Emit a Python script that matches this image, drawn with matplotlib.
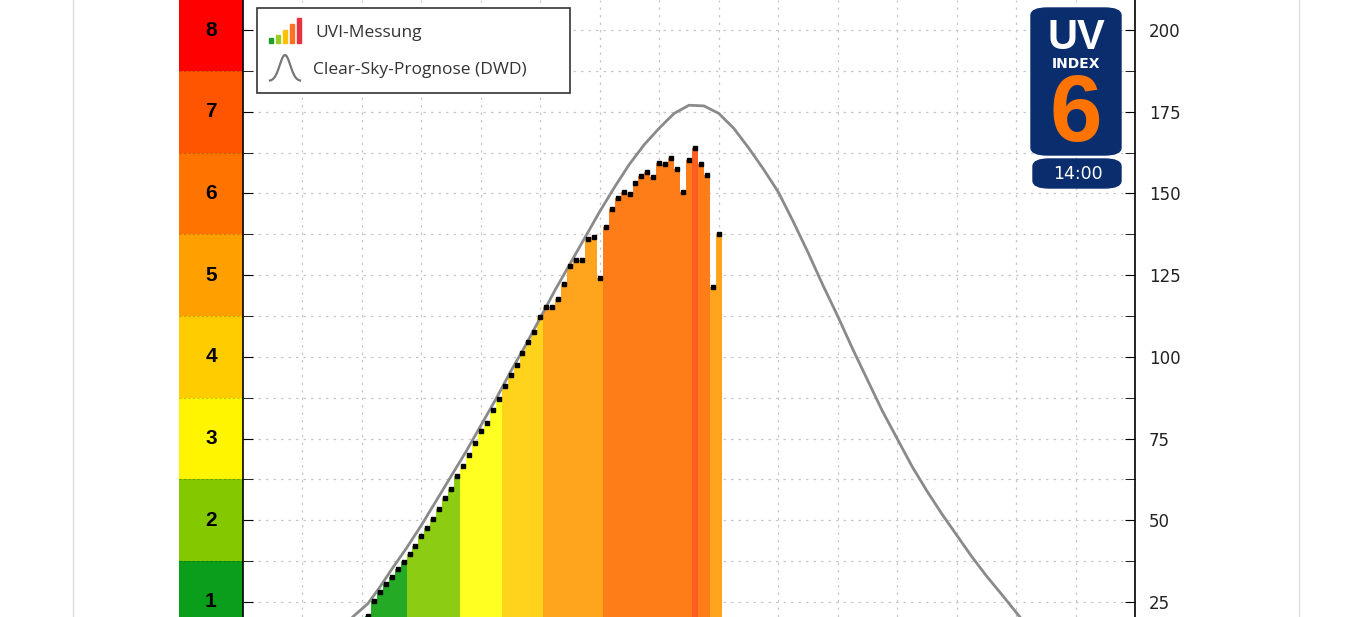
import numpy as np
import matplotlib.pyplot as plt
from matplotlib.patches import Rectangle, FancyBboxPatch
from matplotlib.lines import Line2D

# measured UVI (scaled x25) every 6 minutes from 08:06 to 14:00
t_start = 8.1
uvi = [20.6, 25.4, 28.2, 30.4, 32.6, 35.0, 37.1, 39.7, 42.2, 45.1,
       47.7, 50.5, 53.4, 56.7, 59.6, 63.6, 66.5, 70.1, 73.5, 77.3,
       79.9, 83.6, 87.0, 91.0, 94.6, 97.5, 101.1, 104.5, 107.7, 112.1,
       115.4, 115.4, 117.6, 122.3, 127.9, 129.7, 129.7, 136.0, 136.6, 124.0,
       139.8, 145.2, 148.5, 150.3, 149.7, 153.3, 155.3, 156.5, 155.1, 159.2,
       159.0, 160.7, 157.5, 150.6, 160.1, 164.0, 159.0, 155.7, 121.4, 137.5]
hours = t_start + 0.1 * np.arange(len(uvi))

# clear-sky forecast (DWD)
cs_hours = [7.85, 8.1, 8.3, 8.5, 8.75, 9.0, 9.25, 9.5, 9.75, 10.0, 10.25, 10.5,
            10.75, 11.0, 11.25, 11.5, 11.75, 12.0, 12.25, 12.5, 12.75, 13.0,
            13.25, 13.5, 13.75, 14.0, 14.25, 14.5, 14.75, 15.0, 15.25, 15.5,
            15.75, 16.0, 16.25, 16.5, 16.75, 17.0, 17.25, 17.5, 17.75, 18.0,
            18.25, 18.5, 18.75, 19.06]
cs_vals = [20.5, 24.5, 29.5, 35.0, 41.5, 48.5, 56.0, 63.5, 71.0, 79.0, 87.0, 95.5,
           103.5, 112.0, 120.5, 128.5, 136.5, 144.5, 152.0, 159.0, 165.0, 170.0,
           174.5, 177.0, 176.8, 174.5, 170.0, 164.0, 157.5, 150.5, 141.5, 132.0,
           122.0, 112.5, 102.5, 93.0, 83.5, 75.0, 66.5, 59.0, 52.0, 45.5,
           39.0, 33.0, 27.5, 20.5]

band_labels = [1, 2, 3, 4, 5, 6, 7, 8]
band_colors = ['#0a9e1a', '#84c800', '#fff500', '#ffcc00', '#ff9f00',
               '#ff7300', '#ff5500', '#ff0000']
bar_colors = ['#25aa25', '#8ccc12', '#ffff22', '#ffd21c', '#ffa41c',
              '#ff7d18', '#ff5e20', '#ff1a1a']

W, H = 1371, 617
fig = plt.figure(figsize=(W / 100, H / 100), dpi=100)
fig.patch.set_facecolor('white')
for xb in (73, 1299):
    fig.add_artist(Line2D([xb / W, xb / W], [0, 1], color='#dddddd', lw=1))

ylo, yhi = 20.4, 209.2

# colour scale column
axc = fig.add_axes([179 / W, 0, 64 / W, 1])
for lab, col in zip(band_labels, band_colors):
    axc.bar(0.5, 25, bottom=25 * lab - 12.5, width=1, color=col, edgecolor='none')
    axc.text(0.5, 25 * lab, str(lab), ha='center', va='center', fontsize=15,
             fontweight='bold', family='Liberation Sans')
    axc.axhline(25 * lab + 12.5, color='#00000033', lw=0.8, ls=(0, (2, 2)))
axc.set_xlim(0, 1)
axc.set_ylim(ylo, yhi)
axc.axis('off')

ax = fig.add_axes([243 / W, 0, 892 / W, 1])
cols = [bar_colors[min(int(v / 25 + 0.45), 8) - 1] for v in uvi]
ax.bar(hours, uvi, width=0.1, color=cols, edgecolor='none', zorder=2)
ax.plot(hours, uvi, ls='none', marker='s', ms=3.2, color='black', zorder=4)
ax.plot(cs_hours, cs_vals, color='#8a8a8a', lw=2, zorder=3)

ax.set_xticks(np.arange(7, 21))
ax.set_yticks(np.arange(25, 201, 25))
ax.set_yticks(np.arange(12.5, 209, 25), minor=True)
ax.grid(True, which='both', color='#c8c8c8', ls=(0, (2, 4)), lw=0.9, zorder=1)
ax.tick_params(axis='x', length=0, labelbottom=False)
ax.yaxis.tick_right()
ax.tick_params(axis='y', which='both', direction='in', length=7, labelsize=12,
               left=True, right=True, labelleft=False, labelright=True, pad=10,
               labelcolor='#222222')
for s in ('top', 'bottom'):
    ax.spines[s].set_visible(False)
for s in ('left', 'right'):
    ax.spines[s].set_linewidth(1.2)
ax.set_xlim(6, 21)
ax.set_ylim(ylo, yhi)

# legend box
tr = fig.transFigure
fig.add_artist(Rectangle((257 / W, 1 - 93 / H), 313 / W, 85 / H, transform=tr,
                         facecolor='white', edgecolor='#333333', lw=1.2, zorder=10))
for i, (c, h) in enumerate(zip(['#1e9e2a', '#9ccc20', '#ffc000', '#ff7020', '#e83040'],
                               [5, 8, 13, 19, 25])):
    fig.add_artist(Rectangle(((269 + i * 7) / W, 1 - 43 / H), 4 / W, h / H,
                             transform=tr, color=c, zorder=11))
bx = np.linspace(-1, 1, 30)
fig.add_artist(Line2D((285 + 15 * bx) / W, 1 - (81 - 26 * np.exp(-4 * bx ** 2)) / H,
                      transform=tr, color='#777777', lw=1.6, zorder=11))
fig.text(315 / W, 1 - 33 / H, 'UVI-Messung', fontsize=12.5, va='center',
         color='#333333', zorder=12, family='Open Sans')
fig.text(313 / W, 1 - 70 / H, 'Clear-Sky-Prognose (DWD)', fontsize=12.5,
         va='center', color='#333333', zorder=12, family='Open Sans')

# UV index badge
navy = '#0a2d6e'
fig.add_artist(FancyBboxPatch((1031 / W, 1 - 155 / H), 90 / W, 147 / H,
                              boxstyle='round,pad=0,rounding_size=0.012',
                              transform=tr, color=navy, zorder=10))
fig.add_artist(FancyBboxPatch((1033 / W, 1 - 188 / H), 88 / W, 29 / H,
                              boxstyle='round,pad=0,rounding_size=0.012',
                              transform=tr, color=navy, zorder=10))
fig.text(1076 / W, 1 - 38 / H, 'UV', fontsize=30, fontweight='bold', color='white',
         ha='center', va='center', zorder=12, family='Liberation Sans')
fig.text(1076 / W, 1 - 64 / H, 'INDEX', fontsize=10, fontweight='bold',
         color='white', ha='center', va='center', zorder=12)
fig.text(1076 / W, 1 - 116 / H, '6', fontsize=68, fontweight='bold', color='#ff7300',
         ha='center', va='center', zorder=12, family='Liberation Sans')
fig.text(1078 / W, 1 - 174 / H, '14:00', fontsize=12.5, color='white',
         ha='center', va='center', zorder=12)

fig.savefig('out.png', dpi=100)
